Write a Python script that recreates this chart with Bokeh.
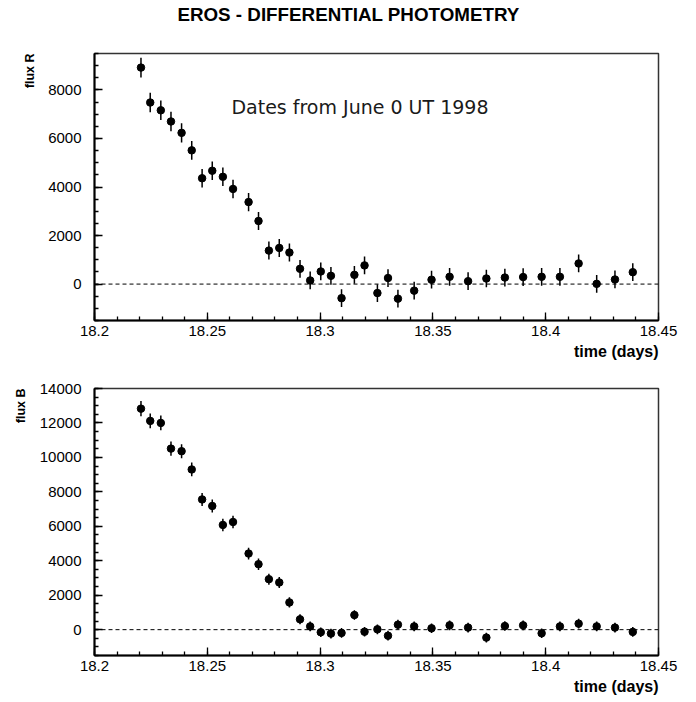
from bokeh.plotting import figure
from bokeh.layouts import column
from bokeh.models import FixedTicker, Range1d, Title, Span, Label, ColumnDataSource
from bokeh.core.properties import value
from bokeh.embed import file_html
from bokeh.resources import INLINE

# ---------------- data ----------------
time_days = [18.2206, 18.2247, 18.2294, 18.2339, 18.2386, 18.2431, 18.2477, 18.2522,
             18.2569, 18.2614, 18.2683, 18.2727, 18.2773, 18.2819, 18.2864, 18.2911,
             18.2956, 18.3003, 18.3048, 18.3095, 18.3152, 18.3197, 18.3254, 18.3301,
             18.3345, 18.3417, 18.3494, 18.3574, 18.3656, 18.3737, 18.3819, 18.3900,
             18.3982, 18.4063, 18.4146, 18.4226, 18.4307, 18.4386]

flux_R = [8920, 7480, 7160, 6700, 6230, 5510, 4360, 4670, 4420, 3920, 3380, 2600,
          1380, 1490, 1300, 630, 150, 520, 340, -580, 380, 770, -370, 250, -600,
          -270, 180, 300, 120, 230, 270, 290, 300, 300, 850, 10, 190, 490]
err_R = [410, 405, 400, 400, 395, 390, 385, 385, 380, 380, 375, 375, 370, 370, 370,
         365, 365, 365, 365, 365, 365, 365, 365, 365, 365, 365, 365, 365, 365, 365,
         365, 365, 365, 365, 365, 365, 365, 365]

flux_B = [12830, 12120, 12000, 10510, 10360, 9300, 7560, 7180, 6080, 6250, 4420, 3800,
          2930, 2740, 1580, 600, 190, -150, -230, -190, 850, -120, 20, -350, 290, 190,
          80, 250, 120, -460, 210, 250, -210, 190, 350, 190, 120, -130]
err_B = [440, 430, 430, 410, 410, 400, 380, 380, 360, 360, 340, 330, 320, 320, 300,
         290, 280, 280, 280, 280, 280, 280, 280, 280, 280, 280, 280, 280, 280, 280,
         280, 280, 280, 280, 280, 280, 280, 280]

x_tick_values = [18.2, 18.25, 18.3, 18.35, 18.4, 18.45]
x_tick_labels = ["18.2", "18.25", "18.3", "18.35", "18.4", "18.45"]
yR_ticks = [0, 2000, 4000, 6000, 8000]
yB_ticks = [0, 2000, 4000, 6000, 8000, 10000, 12000, 14000]

main_title = "EROS - DIFFERENTIAL PHOTOMETRY"
note_text = "Dates from June 0 UT 1998"
x_label = "time (days)"

FONT = "Liberation Sans"


def make_panel(flux, err, y_lo, y_hi, y_major, ylabel, height, b_top, b_bottom):
    p = figure(width=696, height=height, output_backend="svg", toolbar_location=None,
               x_range=Range1d(18.2, 18.45), y_range=Range1d(y_lo, y_hi),
               min_border_left=94, min_border_right=38,
               min_border_top=b_top, min_border_bottom=b_bottom,
               title=None)
    p.background_fill_color = "white"
    p.border_fill_color = "white"
    p.outline_line_color = "#333333"
    p.outline_line_width = 1.5
    p.xgrid.visible = False
    p.ygrid.visible = False

    # x axis
    xa = p.xaxis[0]
    xa.ticker = FixedTicker(ticks=x_tick_values,
                            minor_ticks=[round(18.2 + 0.01 * i, 2) for i in range(26)])
    xa.major_label_overrides = {v: s for v, s in zip(x_tick_values, x_tick_labels)}
    # y axis
    ya = p.yaxis[0]
    ya.ticker = FixedTicker(ticks=y_major,
                            minor_ticks=list(range(int(y_lo), int(y_hi) + 1, 500)))
    for ax in (xa, ya):
        ax.axis_line_color = "black"
        ax.axis_line_width = 2
        ax.major_tick_in = 8
        ax.major_tick_out = 0
        ax.minor_tick_in = 4
        ax.minor_tick_out = 0
        ax.major_tick_line_color = "black"
        ax.minor_tick_line_color = "black"
        ax.major_tick_line_width = 1.3
        ax.minor_tick_line_width = 1.3
        ax.major_label_text_font = FONT
        ax.major_label_text_font_size = "15px"
        ax.major_label_text_color = "black"
    xa.major_label_standoff = 5
    ya.major_label_standoff = 13

    # zero line
    p.add_layout(Span(location=0, dimension="width", line_color="black",
                      line_width=1, line_dash="4 3"))

    src = ColumnDataSource(dict(
        t=time_days, f=flux,
        lo=[f - e for f, e in zip(flux, err)],
        hi=[f + e for f, e in zip(flux, err)]))
    p.segment(x0="t", y0="lo", x1="t", y1="hi", source=src,
              line_color="black", line_width=1.5)
    p.scatter(x="t", y="f", source=src, size=7.5, marker="circle",
              fill_color="black", line_color="black")

    p.add_layout(Title(text=ylabel, align="right", text_font=FONT,
                       text_font_style="bold", text_font_size="12.5px",
                       text_color="black", standoff=18), "left")
    p.add_layout(Title(text=x_label, align="right", text_font=FONT,
                       text_font_style="bold", text_font_size="16px",
                       text_color="black", standoff=4), "below")
    return p


# header strip holding the main title (its frame is aligned with the panels below,
# so the title is shifted left to sit at the page centre)
head = figure(width=696, height=28, output_backend="svg", toolbar_location=None,
              x_range=Range1d(0, 1), y_range=Range1d(0, 1),
              x_axis_type=None, y_axis_type=None, title=None,
              min_border=0, min_border_left=0, min_border_right=0,
              min_border_top=0, min_border_bottom=0)
head.outline_line_color = None
head.xgrid.visible = False
head.ygrid.visible = False
head.text(x=[0.4504], y=[0.5], text=[main_title], text_font=value(FONT),
          text_font_style="bold", text_font_size="18.8px", text_color="black",
          text_align="center", text_baseline="middle")

top = make_panel(flux_R, err_R, -1500, 9500, yR_ticks, "flux R", 340, 25, 48)
top.add_layout(Label(x=18.2607, y=7280, text=note_text,
                     text_font="DejaVu Sans", text_font_size="19px",
                     text_color="#1a1a1a", text_baseline="alphabetic"))

bottom = make_panel(flux_B, err_B, -1500, 14000, yB_ticks, "flux B", 334, 20, 47)

layout = column(head, top, bottom, spacing=0)

with open("out.html", "w") as fh:
    fh.write(file_html(layout, INLINE))
